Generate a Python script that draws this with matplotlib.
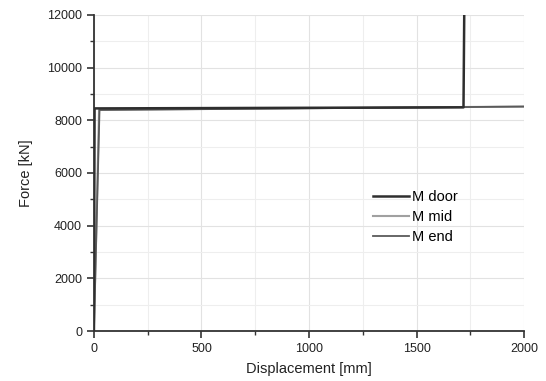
import matplotlib
matplotlib.use("Agg")
import matplotlib.pyplot as plt
from matplotlib.ticker import MultipleLocator

plt.rcParams['font.family'] = ['Liberation Sans', 'DejaVu Sans']

# Data
door_x = [0, 3, 1718, 1722]
door_y = [0, 8450, 8490, 12600]
mid_x = [0, 24, 2000]
mid_y = [0, 8400, 8520]
end_x = [0, 26, 2000]
end_y = [0, 8390, 8520]

series_names = ["M door", "M mid", "M end"]
x_ticks = [0, 500, 1000, 1500, 2000]
y_ticks = [0, 2000, 4000, 6000, 8000, 10000, 12000]

fig = plt.figure(figsize=(5.46, 3.81), dpi=100)
ax = fig.add_axes([0.172, 0.131, 0.788, 0.830])

ax.plot(mid_x, mid_y, color='#a0a0a0', lw=1.5, label=series_names[1], zorder=3)
ax.plot(end_x, end_y, color='#5a5a5a', lw=1.3, label=series_names[2], zorder=4)
ax.plot(door_x, door_y, color='#2e2e2e', lw=1.8, label=series_names[0], zorder=5)

ax.set_xlim(0, 2000)
ax.set_ylim(0, 12000)
ax.set_xticks(x_ticks)
ax.set_yticks(y_ticks)
ax.xaxis.set_minor_locator(MultipleLocator(250))
ax.yaxis.set_minor_locator(MultipleLocator(1000))
ax.grid(True, which='major', color='#e2e2e2', lw=0.8, zorder=0)
ax.grid(True, which='minor', color='#eeeeee', lw=0.8, zorder=0)
ax.set_axisbelow(True)

for s in ['top', 'right']:
    ax.spines[s].set_visible(False)
for s in ['left', 'bottom']:
    ax.spines[s].set_color('#333333')
    ax.spines[s].set_linewidth(1.3)

ax.tick_params(which='major', direction='out', length=5, width=1.2, color='#333333',
               labelsize=9, labelcolor='#222222')
ax.tick_params(which='minor', direction='out', length=3, width=1.0, color='#333333')

ax.set_xlabel("Displacement [mm]", fontsize=10.5, color='#222222', labelpad=5)
ax.set_ylabel("Force [kN]", fontsize=10.5, color='#222222', labelpad=10)

handles, labels = ax.get_legend_handles_labels()
order = [2, 0, 1]
leg = ax.legend([handles[i] for i in order], [labels[i] for i in order],
                loc='center left', bbox_to_anchor=(0.625, 0.361), frameon=False,
                fontsize=10.5, handlelength=2.5, handletextpad=0.2, labelspacing=0.4,
                borderpad=0.2)

fig.savefig("out.png", dpi=100)
